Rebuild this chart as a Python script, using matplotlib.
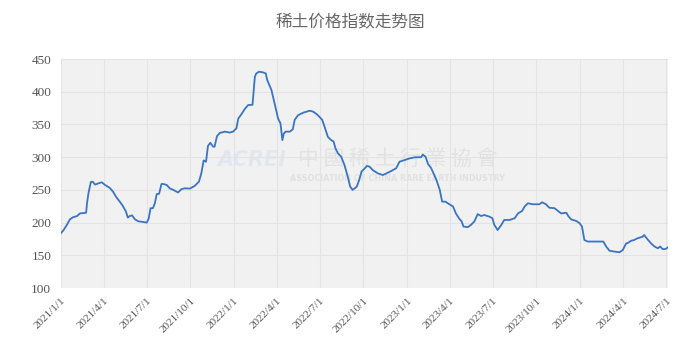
import numpy as np
import pandas as pd
import matplotlib
matplotlib.use("Agg")
import matplotlib.pyplot as plt
import matplotlib.dates as mdates

# Días transcurridos desde 2021-01-01 y valor del índice
DIAS = [0, 5, 12, 19, 25, 34, 40, 53, 55, 58, 63, 67, 72, 79, 86, 93, 103, 110,
        116, 124, 130, 137, 141, 145, 150, 156, 163, 173, 181, 185, 189, 194,
        198, 202, 207, 212, 216, 223, 230, 237, 247, 254, 261, 272, 282, 291,
        296, 301, 306, 310, 315, 321, 324, 329, 335, 346, 356, 363, 370, 374,
        381, 388, 395, 404, 409, 412, 418, 426, 432, 435, 444, 449, 454, 458,
        463, 467, 470, 474, 483, 489, 493, 500, 511, 525, 532, 539, 546, 551,
        556, 563, 570, 575, 579, 584, 591, 598, 605, 610, 615, 619, 624, 629,
        634, 641, 645, 651, 658, 669, 679, 686, 697, 707, 714, 725, 735, 746,
        760, 763, 769, 774, 781, 786, 792, 799, 804, 811, 816, 827, 833, 840,
        845, 849, 858, 865, 872, 879, 886, 893, 904, 910, 914, 921, 929, 935,
        946, 957, 964, 973, 978, 985, 995, 1009, 1015, 1023, 1030, 1041, 1048,
        1055, 1066, 1071, 1076, 1087, 1094, 1099, 1104, 1111, 1144, 1150, 1157,
        1167, 1178, 1185, 1192, 1197, 1202, 1209, 1216, 1227, 1230, 1237, 1245,
        1252, 1259, 1264, 1269, 1275, 1280]
INDICE = [184, 188, 196, 205, 208, 210, 214, 215, 230, 245, 262, 262.5, 258,
          260, 261.6, 257.5, 253, 247, 239.6, 232, 226, 217, 207.6, 210, 211,
          205, 202, 201, 200, 206, 222, 222, 229.5, 243.6, 244, 259, 259,
          257.5, 252, 250, 246, 251, 252.4, 252, 256, 262.5, 275, 295, 293,
          317, 322, 316, 316, 332, 337, 339, 337.6, 339, 344, 359, 366, 374,
          379.7, 380, 423, 428, 430.6, 429.6, 428, 418, 402.6, 387, 372, 359,
          351.7, 326, 336, 339, 339, 342.6, 357, 364, 368, 371, 369.5, 366,
          361, 357, 346.6, 331, 326, 324, 313.5, 306, 300.7, 288, 270, 255,
          250, 252, 255, 265, 278, 283, 286.5, 285.5, 280, 275, 272.7, 275,
          279, 283, 293, 295.6, 298, 299.7, 300, 304, 300.7, 290, 283, 275,
          265, 250, 232, 232, 229.5, 224.6, 214, 206, 202, 194, 193, 196.6,
          201.7, 213, 210, 211.6, 209, 206.6, 196.6, 188.6, 196.6, 204, 204,
          206.6, 214, 218, 224.6, 229.5, 228, 228, 231, 228, 222.7, 222, 218,
          214, 215, 209, 205, 202.4, 199, 194, 173.4, 171, 171, 163.4, 157,
          155.7, 154.6, 158, 168, 169.4, 172, 173.4, 176, 178.4, 181, 174.6,
          168, 163.4, 160.7, 163.4, 159.5, 159.5, 162]

FECHA_INICIO = "2021-01-01"
FECHA_FIN_DIAS = 1280
Y_TICKS = [100, 150, 200, 250, 300, 350, 400, 450]
TITULO = "稀土价格指数走势图"

fechas = pd.Timestamp(FECHA_INICIO) + pd.to_timedelta(DIAS, unit="D")
ticks_x = pd.date_range(FECHA_INICIO, "2024-07-01", freq="QS")

fig = plt.figure(figsize=(7.0, 3.54), dpi=100)
ax = fig.add_axes([0.0871, 0.1864, 0.8669, 0.6469])
ax.set_facecolor("#f1f1f1")

ax.plot(fechas, INDICE, color="#3a74c2", linewidth=1.3, zorder=3)

ax.set_xlim(pd.Timestamp(FECHA_INICIO),
            pd.Timestamp(FECHA_INICIO) + pd.Timedelta(days=FECHA_FIN_DIAS))
ax.set_ylim(100, 450)
ax.set_yticks(Y_TICKS)
ax.set_xticks(ticks_x)
ax.set_xticklabels([f"{d.year}/{d.month}/1" for d in ticks_x])

ax.grid(True, color="#e3e3e3", linewidth=0.8, zorder=0)
for s in ax.spines.values():
    s.set_visible(False)
ax.tick_params(axis="both", length=0, colors="#555555", labelsize=9.5)
ax.tick_params(axis="y", pad=7)
for lbl in ax.get_yticklabels() + ax.get_xticklabels():
    lbl.set_fontfamily("Liberation Serif")
plt.setp(ax.get_xticklabels(), rotation=45, ha="right", va="top",
         rotation_mode="anchor", fontsize=8)
ax.tick_params(axis="x", pad=6)

# Marca de agua
ax.text(0.315, 0.56, "ACREI", transform=ax.transAxes, fontsize=15,
        fontstyle="italic", fontweight="bold", color="#4a8ad0", alpha=0.09,
        ha="center", va="center", zorder=1, family="DejaVu Sans")
ax.text(0.555, 0.565, "中 國 稀 土 行 業 協 會", transform=ax.transAxes, fontsize=15,
        color="#888888", alpha=0.14, ha="center", va="center", zorder=1,
        family=["Noto Sans CJK TC", "DejaVu Sans"])
ax.text(0.555, 0.48, "ASSOCIATION OF CHINA RARE EARTH INDUSTRY",
        transform=ax.transAxes, fontsize=5.8, fontweight="bold",
        color="#888888", alpha=0.15, ha="center", va="center", zorder=1)

fig.text(0.5, 0.935, TITULO, ha="center", va="center", fontsize=12,
         color="#666666", family=["Noto Sans CJK SC", "DejaVu Sans"])

plt.savefig("out.png", dpi=100)
plt.close()
